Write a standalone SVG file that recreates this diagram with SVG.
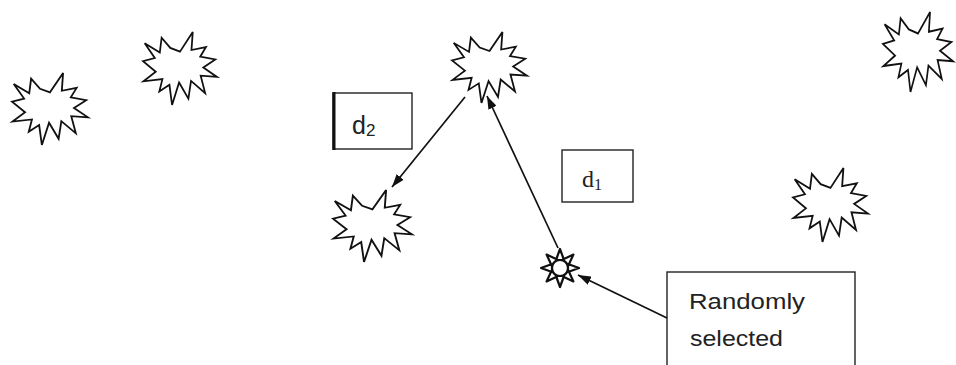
<svg xmlns="http://www.w3.org/2000/svg" width="956" height="365" viewBox="0 0 956 365">
<style>
.ex{fill:#fff;stroke:#111;stroke-width:2.4;stroke-linejoin:miter;vector-effect:non-scaling-stroke}
.box{fill:#fff;stroke:#222;stroke-width:1.4}
.con{stroke:#111;stroke-width:1.7;fill:none;marker-end:url(#ah)}
.t{font-family:"Liberation Sans",Arial,sans-serif;fill:#222}
.ts{font-family:"Liberation Serif","Times New Roman",serif;fill:#222}
</style>
<defs>
<marker id="ah" viewBox="0 0 13 9" refX="13" refY="4.5" markerWidth="13" markerHeight="9" markerUnits="userSpaceOnUse" orient="auto">
<path d="M0,0 L13,4.5 L0,9 z" fill="#111"/>
</marker>
<path id="seal" d="M50,26.85 L67.23,0 L65.53,24.65 L85.09,20.63 L77.32,33.86 L97.67,37.67 L81.51,48.5 L100,61.53 L77.95,59.92 L84,83.77 L64.91,66.93 L61.33,91.38 L48.76,69.14 L39.28,100 L35.72,72.35 L22.05,81.56 L26.24,64.52 L0.63,67.53 L17.23,54.51 L0,39.88 L15.97,35.59 L2.27,15.28 L22.69,28.06 L25.16,7.9 L36.9,21.81 Z"/>
<path id="ray" d="M0,-19 L4,-8 L-4,-8 Z"/>
</defs>
<rect width="956" height="365" fill="#fff"/>
<g id="e1"><use href="#seal" class="ex" transform="translate(12,73) scale(0.76,0.72)"/></g>
<g id="e2"><use href="#seal" class="ex" transform="translate(143,32) scale(0.74,0.73)"/></g>
<g id="e3"><use href="#seal" class="ex" transform="translate(452,32) scale(0.75,0.71)"/></g>
<g id="e4"><use href="#seal" class="ex" transform="translate(883,12) scale(0.70,0.80)"/></g>
<g id="e5"><use href="#seal" class="ex" transform="translate(333,190) scale(0.79,0.72)"/></g>
<g id="e6"><use href="#seal" class="ex" transform="translate(793,168) scale(0.75,0.74)"/></g>
<g id="sun" transform="translate(560,268)" fill="#fff" stroke="#111" stroke-width="2.2" stroke-linejoin="round">
<use href="#ray"/>
<use href="#ray" transform="rotate(45)"/>
<use href="#ray" transform="rotate(90)"/>
<use href="#ray" transform="rotate(135)"/>
<use href="#ray" transform="rotate(180)"/>
<use href="#ray" transform="rotate(225)"/>
<use href="#ray" transform="rotate(270)"/>
<use href="#ray" transform="rotate(315)"/>
<circle r="8"/>
</g>
<g id="d2">
<rect class="box" x="333" y="93" width="79" height="56"/>
<line x1="334" y1="92" x2="334" y2="150" stroke="#111" stroke-width="3"/>
<text class="t" x="352" y="134" font-size="25">d<tspan font-size="17" dy="2">2</tspan></text>
</g>
<g id="d1">
<rect class="box" x="562" y="150" width="71" height="52"/>
<text class="ts" x="582" y="187" font-size="24">d<tspan font-size="16" dy="3">1</tspan></text>
</g>
<g id="rnd">
<rect class="box" x="667" y="272" width="188" height="100"/>
<text class="t" x="689" y="309" font-size="22" textLength="116" lengthAdjust="spacingAndGlyphs">Randomly</text>
<text class="t" x="690" y="346" font-size="22" textLength="93" lengthAdjust="spacingAndGlyphs">selected</text>
</g>
<g id="connectors">
<line class="con" x1="667" y1="318" x2="578" y2="275"/>
<line class="con" x1="558" y1="248" x2="487" y2="96"/>
<line class="con" x1="465" y1="97" x2="392" y2="187"/>
</g>
</svg>
